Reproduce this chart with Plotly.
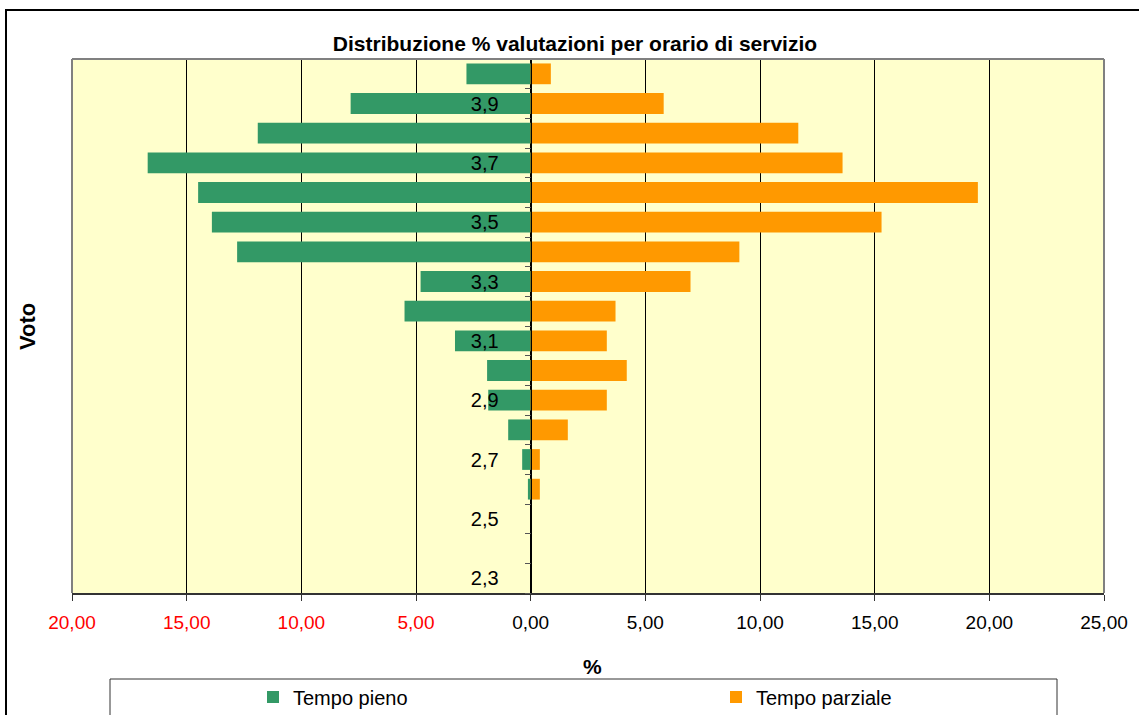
import plotly.graph_objects as go

# ---- data ----
votes = [4.0, 3.9, 3.8, 3.7, 3.6, 3.5, 3.4, 3.3, 3.2, 3.1, 3.0, 2.9, 2.8, 2.7, 2.6, 2.5, 2.4, 2.3]
tempo_pieno = [2.8, 7.85, 11.9, 16.7, 14.5, 13.9, 12.8, 4.8, 5.5, 3.3, 1.9, 1.85, 0.98, 0.37, 0.12, 0, 0, 0]
tempo_parziale = [0.88, 5.8, 11.67, 13.6, 19.5, 15.3, 9.1, 6.97, 3.7, 3.32, 4.19, 3.32, 1.62, 0.4, 0.4, 0, 0, 0]
y_tick_vals = [3.9, 3.7, 3.5, 3.3, 3.1, 2.9, 2.7, 2.5, 2.3]
y_tick_text = ["3,9", "3,7", "3,5", "3,3", "3,1", "2,9", "2,7", "2,5", "2,3"]
x_tick_vals = [-20, -15, -10, -5, 0, 5, 10, 15, 20, 25]
x_tick_text = ["20,00", "15,00", "10,00", "5,00", "0,00", "5,00", "10,00", "15,00", "20,00", "25,00"]

FONT = "Liberation Sans, Arial, sans-serif"
GREEN = "#339966"
ORANGE = "#FF9900"

x_text_styled = [
    (f'<span style="color:#FF0000">{t}</span>' if v < 0 else t)
    for v, t in zip(x_tick_vals, x_tick_text)
]

fig = go.Figure()
fig.add_trace(go.Bar(
    y=votes, x=[-v for v in tempo_pieno], orientation="h", name="Tempo pieno",
    marker=dict(color=GREEN, line=dict(width=0)), width=0.07, legend="legend",
))
fig.add_trace(go.Bar(
    y=votes, x=tempo_parziale, orientation="h", name="Tempo parziale",
    marker=dict(color=ORANGE, line=dict(width=0)), width=0.07, legend="legend2",
))

L, R, T, B = 72, 1104, 59, 593
W, H = 1139, 715
pw, ph = R - L, B - T

def px(xp):
    return (xp - L) / pw

def py(yp):
    return (B - yp) / ph

zero_pos = 20 / 45

fig.update_layout(
    width=W, height=H,
    margin=dict(l=L, r=W - R, t=T, b=H - B, autoexpand=False),
    paper_bgcolor="white",
    plot_bgcolor="#FFFFCC",
    barmode="overlay",
    showlegend=True,
    font=dict(family=FONT, size=18, color="black"),
    title=dict(
        text="<b>Distribuzione % valutazioni per orario di servizio</b>",
        xref="container", yref="container", x=575 / W, y=1 - 44 / H,
        xanchor="center", yanchor="middle",
        font=dict(family=FONT, size=21, color="black"),
    ),
    xaxis=dict(
        range=[-20, 25], tickmode="array", tickvals=x_tick_vals, ticktext=x_text_styled,
        showgrid=True, gridcolor="black", gridwidth=1, zeroline=False,
        ticks="outside", ticklen=6, tickcolor="#333333", tickwidth=1,
        showline=True, linecolor="#333333", linewidth=2,
        tickfont=dict(family=FONT, size=19, color="black"),
        ticklabelstandoff=5,
        fixedrange=True,
    ),
    yaxis=dict(
        range=[2.25, 4.05], tickmode="array", tickvals=y_tick_vals, ticktext=y_tick_text,
        anchor="free", position=zero_pos, side="left",
        showgrid=False, zeroline=False,
        showline=True, linecolor="black", linewidth=1,
        ticks="", ticklabelstandoff=28,
        minor=dict(tick0=2.25, dtick=0.1, ticks="outside", ticklen=6, tickcolor="#555555", tickwidth=1, showgrid=False),
        tickfont=dict(family=FONT, size=20, color="black"),
        fixedrange=True,
    ),
    legend=dict(
        orientation="h", x=px(253), y=py(697), xanchor="left", yanchor="middle",
        bgcolor="rgba(0,0,0,0)", font=dict(family=FONT, size=20, color="black"),
    ),
    legend2=dict(
        orientation="h", x=px(716), y=py(697), xanchor="left", yanchor="middle",
        bgcolor="rgba(0,0,0,0)", font=dict(family=FONT, size=20, color="black"),
    ),
    annotations=[
        dict(text="<b>Voto</b>", xref="paper", yref="paper", x=px(27), y=py(327),
             showarrow=False, textangle=-90, font=dict(family=FONT, size=22, color="black"),
             xanchor="center", yanchor="middle"),
        dict(text="<b>%</b>", xref="paper", yref="paper", x=px(592), y=py(666),
             showarrow=False, font=dict(family=FONT, size=21, color="black"),
             xanchor="center", yanchor="middle"),
    ],
    shapes=[
        # outer chart border
        dict(type="rect", xref="paper", yref="paper", x0=px(6), x1=px(1160), y0=py(740), y1=py(10),
             line=dict(color="black", width=2), fillcolor="rgba(0,0,0,0)", layer="below"),
        # plot area border (top, left, right)
        dict(type="line", xref="paper", yref="paper", x0=0, x1=1, y0=1, y1=1,
             line=dict(color="#808080", width=2), layer="above"),
        dict(type="line", xref="paper", yref="paper", x0=0, x1=0, y0=0, y1=1,
             line=dict(color="#808080", width=2), layer="above"),
        dict(type="line", xref="paper", yref="paper", x0=1, x1=1, y0=0, y1=1,
             line=dict(color="#808080", width=2), layer="above"),
        # legend box
        dict(type="rect", xref="paper", yref="paper", x0=px(110), x1=px(1057), y0=py(740), y1=py(679),
             line=dict(color="#333333", width=1), fillcolor="white", layer="below"),
    ],
)

fig.write_html(
    "out.html",
    config={"displayModeBar": False},
    post_script="document.body.style.margin='0';document.body.style.padding='0';document.body.style.overflow='hidden';",
)
